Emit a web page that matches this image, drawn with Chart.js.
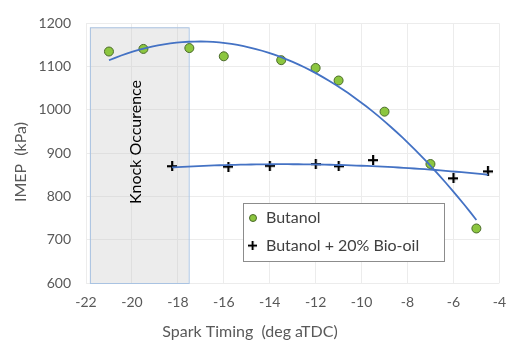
<!DOCTYPE html>
<html lang="en">
<head>
    <meta charset="UTF-8">
    <title>IMEP vs Spark Timing</title>
    <script src="https://cdn.jsdelivr.net/npm/chart.js"></script>
    <style>
        html, body { margin: 0; padding: 0; background: #fff; }
        #wrap { width: 517px; height: 345px; }
    </style>
</head>
<body>
    <div id="wrap">
        <canvas id="imepChart" width="517" height="345"></canvas>
    </div>
    <script>
        // Values
        const butanolTiming = [-21, -19.5, -17.5, -16, -13.5, -12, -11, -9, -7, -5];
        const butanolImep   = [1135, 1141, 1143, 1124, 1115, 1097, 1068, 996, 875, 726];

        const bioOilTiming = [-18.25, -15.8, -14, -12, -11, -9.5, -6, -4.5];
        const bioOilImep   = [870, 869, 871, 875, 870, 884, 842, 858];

        const xTicks = [-22, -20, -18, -16, -14, -12, -10, -8, -6, -4];
        const yTicks = [600, 700, 800, 900, 1000, 1100, 1200];

        // knock region (deg aTDC, kPa)
        const knockRange = [-21.83, -17.53];
        const knockImep = [600, 1191];

        const FONT = 'Lato, "Open Sans", sans-serif';

        const toPoints = (xs, ys) => xs.map((x, i) => ({ x: x, y: ys[i] }));

        // second order least squares trendline, like the spreadsheet one
        function quadFit(xs, ys) {
            let s = [0, 0, 0, 0, 0], t = [0, 0, 0];
            xs.forEach((x, i) => {
                for (let k = 0; k < 5; k++) s[k] += Math.pow(x, k);
                for (let k = 0; k < 3; k++) t[k] += Math.pow(x, k) * ys[i];
            });
            const m = [[s[0], s[1], s[2], t[0]], [s[1], s[2], s[3], t[1]], [s[2], s[3], s[4], t[2]]];
            for (let c = 0; c < 3; c++) {
                for (let r = c + 1; r < 3; r++) {
                    const f = m[r][c] / m[c][c];
                    for (let k = c; k < 4; k++) m[r][k] -= f * m[c][k];
                }
            }
            const b = [0, 0, 0];
            for (let r = 2; r >= 0; r--) {
                let v = m[r][3];
                for (let k = r + 1; k < 3; k++) v -= m[r][k] * b[k];
                b[r] = v / m[r][r];
            }
            return b;
        }

        function trendPoints(xs, ys) {
            const b = quadFit(xs, ys);
            const lo = Math.min(...xs), hi = Math.max(...xs);
            const pts = [];
            for (let i = 0; i <= 60; i++) {
                const x = lo + (hi - lo) * i / 60;
                pts.push({ x: x, y: b[0] + b[1] * x + b[2] * x * x });
            }
            return pts;
        }

        // plus marker drawn as a thick cross
        const plus = document.createElement('canvas');
        plus.width = 10; plus.height = 10;
        (function () {
            const c = plus.getContext('2d');
            c.fillStyle = '#000';
            c.fillRect(0, 4, 10, 2.2);
            c.fillRect(4, 0, 2.2, 10);
        })();

        // shaded knock box and text, drawn under the data
        const knockPlugin = {
            id: 'knock',
            beforeDatasetsDraw(chart) {
                const { ctx, scales: { x, y } } = chart;
                const x0 = x.getPixelForValue(knockRange[0]);
                const x1 = x.getPixelForValue(knockRange[1]);
                const y0 = y.getPixelForValue(knockImep[1]);
                const y1 = y.getPixelForValue(knockImep[0]);
                ctx.save();
                ctx.fillStyle = 'rgba(200,200,200,0.35)';
                ctx.fillRect(x0, y0, x1 - x0, y1 - y0);
                ctx.strokeStyle = '#a9c3e2';
                ctx.lineWidth = 1;
                ctx.strokeRect(x0 + 0.5, y0 + 0.5, x1 - x0, y1 - y0);
                ctx.translate(136, 142);
                ctx.rotate(-Math.PI / 2);
                ctx.fillStyle = '#000';
                ctx.font = '16px ' + FONT;
                ctx.textAlign = 'center';
                ctx.textBaseline = 'middle';
                ctx.fillText('Knock Occurence', 0, 0);
                ctx.restore();
            }
        };

        // axis titles and boxed legend
        const decorPlugin = {
            id: 'decor',
            afterDraw(chart) {
                const { ctx } = chart;
                ctx.save();
                ctx.fillStyle = '#595959';
                ctx.font = '16px ' + FONT;
                ctx.textAlign = 'center';
                ctx.textBaseline = 'middle';
                ctx.fillText('Spark Timing  (deg aTDC)', 250, 332);
                ctx.translate(21, 162);
                ctx.rotate(-Math.PI / 2);
                ctx.fillText('IMEP  (kPa)', 0, 0);
                ctx.restore();

                ctx.save();
                const lx = 243, ly = 203, lw = 201, lh = 58;
                ctx.fillStyle = '#fff';
                ctx.fillRect(lx, ly, lw, lh);
                ctx.strokeStyle = '#8c8c8c';
                ctx.lineWidth = 1;
                ctx.strokeRect(lx + 0.5, ly + 0.5, lw, lh);
                ctx.beginPath();
                ctx.arc(253, 218, 3.5, 0, Math.PI * 2);
                ctx.fillStyle = '#8cc63f';
                ctx.fill();
                ctx.strokeStyle = '#4a6a2a';
                ctx.stroke();
                ctx.drawImage(plus, 248, 241, 9, 9);
                ctx.fillStyle = '#404040';
                ctx.font = '16px ' + FONT;
                ctx.textBaseline = 'middle';
                ctx.fillText('Butanol', 266, 218);
                ctx.fillText('Butanol + 20% Bio-oil', 266, 246);
                ctx.restore();
            }
        };

        new Chart(document.getElementById('imepChart').getContext('2d'), {
            type: 'scatter',
            data: {
                datasets: [
                    {
                        label: 'Butanol trend',
                        data: trendPoints(butanolTiming, butanolImep),
                        type: 'line',
                        borderColor: '#4472c4',
                        borderWidth: 1.8,
                        pointRadius: 0,
                        fill: false,
                        tension: 0
                    },
                    {
                        label: 'Bio-oil trend',
                        data: trendPoints(bioOilTiming, bioOilImep),
                        type: 'line',
                        borderColor: '#4472c4',
                        borderWidth: 1.8,
                        pointRadius: 0,
                        fill: false,
                        tension: 0
                    },
                    {
                        label: 'Butanol',
                        data: toPoints(butanolTiming, butanolImep),
                        pointRadius: 4.5,
                        pointBackgroundColor: '#8cc63f',
                        pointBorderColor: '#4a6a2a',
                        pointBorderWidth: 1
                    },
                    {
                        label: 'Butanol + 20% Bio-oil',
                        data: toPoints(bioOilTiming, bioOilImep),
                        pointStyle: plus,
                        pointRadius: 5
                    }
                ]
            },
            plugins: [knockPlugin, decorPlugin],
            options: {
                responsive: false,
                animation: false,
                layout: { padding: { top: 20, right: 5, left: 0, bottom: 0 } },
                plugins: {
                    legend: { display: false },
                    tooltip: { enabled: false }
                },
                scales: {
                    x: {
                        type: 'linear',
                        min: -22,
                        max: -4,
                        afterBuildTicks: axis => { axis.ticks = xTicks.map(v => ({ value: v })); },
                        afterFit: axis => { axis.height = 62; },
                        grid: { color: '#ececec', drawTicks: false },
                        border: { display: false },
                        ticks: {
                            color: '#595959',
                            font: { family: FONT, size: 14 },
                            padding: 11,
                            callback: v => String(v)
                        }
                    },
                    y: {
                        min: 600,
                        max: 1200,
                        afterBuildTicks: axis => { axis.ticks = yTicks.map(v => ({ value: v })); },
                        afterFit: axis => { axis.width = 86; },
                        grid: { color: '#ececec', drawTicks: false },
                        border: { display: false },
                        ticks: {
                            color: '#595959',
                            font: { family: FONT, size: 14 },
                            padding: 15,
                            callback: v => String(v)
                        }
                    }
                }
            }
        });
    </script>
</body>
</html>
